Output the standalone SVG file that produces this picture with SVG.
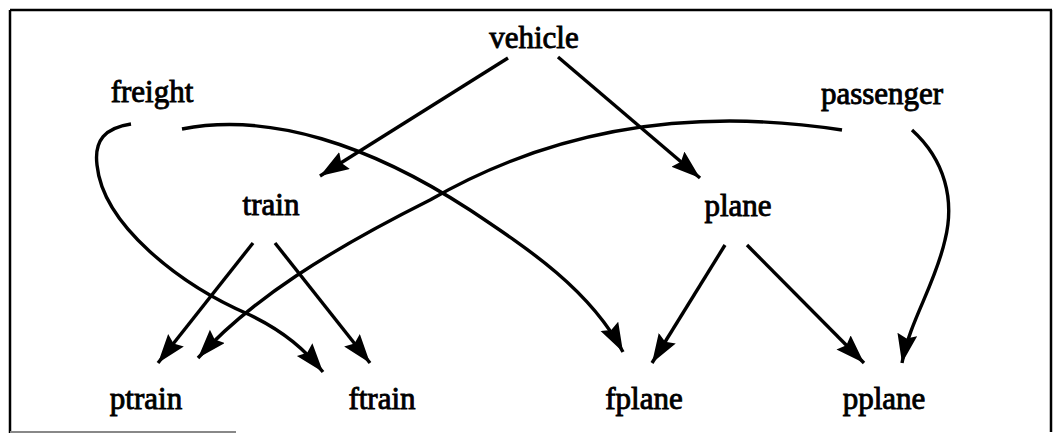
<svg xmlns="http://www.w3.org/2000/svg" width="1061" height="434" viewBox="0 0 1061 434">
<style>
  .lbl { font-family: "Liberation Serif", "Times New Roman", serif; font-size: 31px; fill: #000; stroke: #000; stroke-width: 0.9; text-anchor: middle; }
  .edge { fill: none; stroke: #000; stroke-width: 3.4; marker-end: url(#ah); }
  .frame { stroke: #000; stroke-width: 2.5; fill: none; }
</style>
<defs>
  <marker id="ah" markerUnits="userSpaceOnUse" markerWidth="32" markerHeight="22" refX="29" refY="10" orient="auto">
    <path d="M0,0 L29,10 L0,20 L4,10 z" fill="#000"/>
  </marker>
</defs>
<rect width="1061" height="434" fill="#fff"/>
<g id="frame">
  <line class="frame" x1="10" y1="10" x2="1052" y2="10"/>
  <line class="frame" x1="10" y1="10" x2="10" y2="433"/>
  <line class="frame" x1="1051" y1="10" x2="1051" y2="432"/>
  <line x1="10" y1="432" x2="236" y2="432" stroke="#888" stroke-width="2"/>
</g>
<g id="connectors">
  <line class="edge" x1="508" y1="58" x2="320" y2="176"/>
  <line class="edge" x1="558" y1="57" x2="700" y2="178"/>
  <line class="edge" x1="253" y1="243" x2="158" y2="363"/>
  <line class="edge" x1="275" y1="243" x2="370" y2="363"/>
  <line class="edge" x1="725" y1="245" x2="652" y2="363"/>
  <line class="edge" x1="747" y1="245" x2="864" y2="363"/>
  <path class="edge" d="M182,129 C270,112 370,145 470,210 C530,250 590,290 623,352"/>
  <path class="edge" d="M131,124 C105,128 94,140 97,165 C103,225 180,285 250,315 C285,332 305,350 323,372"/>
  <path class="edge" d="M842,130 C700,108 560,125 430,200 C330,250 250,300 198,358"/>
  <path class="edge" d="M912,130 C945,160 955,200 945,240 C935,285 910,320 902,363"/>
</g>
<g id="vehicle"><text class="lbl" x="534" y="48">vehicle</text></g>
<g id="freight"><text class="lbl" x="152" y="102">freight</text></g>
<g id="passenger"><text class="lbl" x="882" y="104">passenger</text></g>
<g id="train"><text class="lbl" x="271" y="215">train</text></g>
<g id="plane"><text class="lbl" x="738" y="216">plane</text></g>
<g id="ptrain"><text class="lbl" x="146" y="409">ptrain</text></g>
<g id="ftrain"><text class="lbl" x="382" y="409">ftrain</text></g>
<g id="fplane"><text class="lbl" x="644" y="409">fplane</text></g>
<g id="pplane"><text class="lbl" x="884" y="409">pplane</text></g>
</svg>
